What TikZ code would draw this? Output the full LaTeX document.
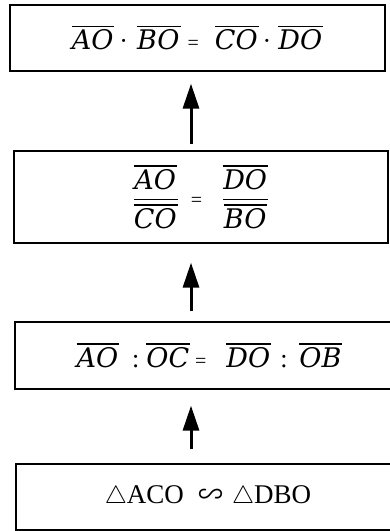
\documentclass[tikz,border=0pt]{standalone}
\usepackage{amsmath}
\usepackage{fontspec}
\setmainfont{Liberation Serif}
\newfontfamily\itf{DejaVu Serif}
\newfontfamily\cjk{Noto Sans CJK SC}
\usetikzlibrary{arrows.meta}
\newcommand\ovl[1]{\vbox{\hrule height 1.3pt\kern 2.5pt\hbox{\fontsize{27}{30}\itf\itshape #1\kern1pt}}}
\newcommand\seq{{\fontsize{20}{20}\selectfont =}}
\newcommand\sdot{{\fontsize{26}{26}\selectfont\textperiodcentered}}
\newcommand\scol{{\fontsize{26}{26}\selectfont :}}
\newcommand\tri{{\fontsize{25}{25}\selectfont$\triangle$}}
\begin{document}
\begin{tikzpicture}[x=1pt,y=-1pt,
  boxnode/.style={draw,line width=1.3pt,inner sep=0pt,font=\fontsize{27}{30}\selectfont},
  uparr/.style={line width=3pt,-{Triangle[length=25pt,width=16pt]}}]
\useasboundingbox (0,0) rectangle (390,531);
\clip (0,0) rectangle (390,531);
\node[boxnode,minimum width=375pt,minimum height=66pt] (b1) at (197.5,38)
  {\ovl{AO}\hspace{5pt}\sdot\hspace{9pt}\ovl{BO}\hspace{7pt}\seq\hspace{16pt}\ovl{CO}\hspace{4pt}\sdot\hspace{7pt}\ovl{DO}};
\node[boxnode,minimum width=374pt,minimum height=92pt] (b2) at (201,197)
  {$\genfrac{}{}{1.3pt}{0}{\ovl{AO}}{\ovl{CO}}$\hspace{12pt}\seq\hspace{20pt}$\genfrac{}{}{1.3pt}{0}{\ovl{DO}}{\ovl{BO}}$};
\node[boxnode,minimum width=377pt,minimum height=67pt] (b3) at (203.5,355.5)
  {\hspace{12pt}\ovl{AO}\hspace{13pt}\scol\hspace{7pt}\ovl{OC}\hspace{5pt}\seq\hspace{20pt}\ovl{DO}\hspace{9pt}\scol\hspace{12pt}\ovl{OB}};
\node[boxnode,minimum width=376pt,minimum height=66pt] (b4) at (204,497)
  {\hspace{8pt}\tri ACO\hspace{14pt}{\cjk\fontsize{25}{25}\selectfont ∽}\hspace{9pt}\tri DBO};
\coordinate (ax) at (191,0);
\draw[uparr,shorten <=6pt,shorten >=12pt] (b2.north -| ax) -- (b1.south -| ax);
\draw[uparr,shorten <=10pt,shorten >=19pt] (b3.north -| ax) -- (b2.south -| ax);
\draw[uparr,shorten <=14pt,shorten >=16pt] (b4.north -| ax) -- (b3.south -| ax);
\end{tikzpicture}
\end{document}
